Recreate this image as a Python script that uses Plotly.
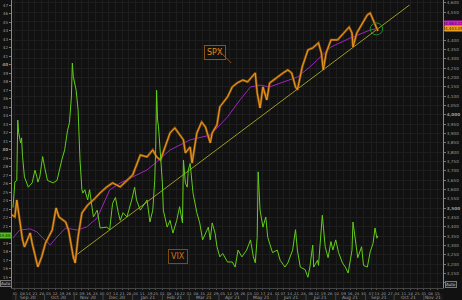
import plotly.graph_objects as go
import pandas as pd

# ---------------- data ----------------
spx_dates = ["2020-08-28","2020-08-31","2020-09-02","2020-09-04","2020-09-08","2020-09-10","2020-09-16",
             "2020-09-18","2020-09-24","2020-09-28","2020-10-02","2020-10-09","2020-10-13","2020-10-16",
             "2020-10-23","2020-10-26","2020-10-31","2020-11-02","2020-11-05","2020-11-09","2020-11-15",
             "2020-11-21","2020-11-28","2020-12-05","2020-12-11","2020-12-19","2020-12-26","2021-01-01",
             "2021-01-09","2021-01-16","2021-01-22","2021-01-26","2021-01-30","2021-02-09","2021-02-14",
             "2021-02-19","2021-02-23","2021-02-25","2021-03-02","2021-03-04","2021-03-09","2021-03-14",
             "2021-03-18","2021-03-23","2021-03-25","2021-03-30","2021-04-02","2021-04-10","2021-04-15",
             "2021-04-20","2021-04-26","2021-05-01","2021-05-09","2021-05-11","2021-05-14","2021-05-17",
             "2021-05-21","2021-05-24","2021-06-01","2021-06-07","2021-06-12","2021-06-16","2021-06-20",
             "2021-06-22","2021-06-27","2021-07-03","2021-07-08","2021-07-14","2021-07-17","2021-07-19",
             "2021-07-22","2021-07-27","2021-08-03","2021-08-10","2021-08-15","2021-08-18","2021-08-19",
             "2021-08-23","2021-08-29","2021-09-03","2021-09-06","2021-09-09","2021-09-13","2021-09-14"]
spx_vals = [3464,3453,3544,3464,3330,3292,3367,3313,3185,3239,3313,3383,3501,3453,3426,3383,3239,3206,
            3346,3474,3517,3544,3582,3614,3635,3614,3651,3678,3785,3775,3812,3775,3758,3903,3930,3892,
            3866,3796,3828,3742,3903,3962,3935,3850,3903,3946,4043,4096,4150,4171,4187,4177,4225,4118,
            4037,4150,4080,4171,4203,4225,4241,4225,4150,4134,4257,4348,4359,4386,4332,4241,4332,4402,
            4402,4439,4471,4439,4364,4439,4493,4536,4546,4509,4466,4450]

ma_dates = ["2020-08-29","2020-09-05","2020-09-16","2020-09-23","2020-09-29","2020-10-07","2020-10-13",
            "2020-10-23","2020-11-04","2020-11-14","2020-11-25","2020-12-01","2020-12-08","2020-12-19",
            "2021-01-01","2021-01-16","2021-01-26","2021-02-09","2021-03-02","2021-03-23","2021-04-10",
            "2021-04-23","2021-05-04","2021-05-14","2021-05-24","2021-06-07","2021-06-22","2021-07-05",
            "2021-07-27","2021-08-16","2021-09-06","2021-09-14"]
ma_vals = [3340,3383,3389,3373,3340,3303,3340,3394,3383,3399,3448,3517,3598,3635,3667,3705,3748,3812,
           3866,3892,3989,4080,4150,4160,4150,4177,4203,4257,4364,4412,4455,4463]

vix_dates = ["2020-08-29","2020-08-31","2020-09-02","2020-09-03","2020-09-04","2020-09-06","2020-09-07",
             "2020-09-08","2020-09-10","2020-09-14","2020-09-18","2020-09-21","2020-09-23","2020-09-24",
             "2020-09-26","2020-09-28","2020-09-29","2020-10-01","2020-10-04","2020-10-10","2020-10-14",
             "2020-10-19","2020-10-22","2020-10-25","2020-10-27","2020-10-29","2020-10-30","2020-10-31",
             "2020-11-01","2020-11-03","2020-11-05","2020-11-06","2020-11-07","2020-11-09","2020-11-10",
             "2020-11-12","2020-11-15","2020-11-17","2020-11-21","2020-11-25","2020-11-28","2020-12-05",
             "2020-12-08","2020-12-11","2020-12-14","2020-12-17","2020-12-19","2020-12-22","2020-12-26",
             "2020-12-31","2021-01-03","2021-01-05","2021-01-09","2021-01-16","2021-01-19","2021-01-22",
             "2021-01-24","2021-01-25","2021-01-26","2021-01-27","2021-01-28","2021-02-01","2021-02-02",
             "2021-02-06","2021-02-09","2021-02-12","2021-02-16","2021-02-19","2021-02-22","2021-02-23",
             "2021-02-25","2021-02-27","2021-02-28","2021-03-02","2021-03-04","2021-03-05","2021-03-09",
             "2021-03-12","2021-03-15","2021-03-18","2021-03-21","2021-03-23","2021-03-25","2021-03-28",
             "2021-03-30","2021-04-02","2021-04-05","2021-04-10","2021-04-15","2021-04-18","2021-04-21",
             "2021-04-25","2021-04-30","2021-05-04","2021-05-07","2021-05-09","2021-05-11","2021-05-12",
             "2021-05-14","2021-05-17","2021-05-20","2021-05-22","2021-05-27","2021-06-01","2021-06-04",
             "2021-06-09","2021-06-12","2021-06-17","2021-06-20","2021-06-22","2021-06-25","2021-06-30",
             "2021-07-03","2021-07-05","2021-07-08","2021-07-09","2021-07-13","2021-07-14","2021-07-18",
             "2021-07-21","2021-07-24","2021-07-27","2021-07-29","2021-08-01","2021-08-04","2021-08-08",
             "2021-08-11","2021-08-14","2021-08-18","2021-08-19","2021-08-21","2021-08-24","2021-08-28",
             "2021-08-30","2021-09-03","2021-09-06","2021-09-09","2021-09-11","2021-09-13","2021-09-14"]
vix_vals = [23.2,26.2,26.4,33.5,32.0,30.8,31.4,29.2,26.8,25.6,26.1,27.6,26.8,26.2,26.8,28.2,29.2,28.0,
            26.4,26.1,26.4,28.8,30.0,32.3,33.2,36.2,40.2,38.6,37.9,37.0,34.7,31.2,28.8,25.3,24.9,25.3,
            24.1,25.3,22.1,22.9,20.8,20.9,20.6,23.7,24.4,22.6,21.7,22.6,22.1,24.1,25.6,24.1,22.9,24.1,
            21.5,22.9,26.4,30.0,37.0,33.5,32.7,26.1,22.9,20.9,21.7,20.2,21.7,23.3,21.4,28.8,26.1,25.6,
            27.6,28.4,26.1,24.9,22.6,21.4,19.4,20.2,20.9,19.4,21.4,20.2,18.6,17.4,17.8,16.8,16.8,16.2,
            18.2,17.4,18.2,19.4,17.4,16.7,19.7,27.4,22.9,20.9,22.1,19.7,17.9,18.2,17.0,16.2,16.7,18.2,
            20.6,18.2,16.2,15.9,15.0,16.2,18.8,16.2,17.0,16.4,22.3,18.6,17.3,19.2,18.2,19.4,17.9,16.7,
            16.2,15.5,18.2,21.5,19.7,17.3,18.6,16.4,16.2,18.0,19.0,20.8,19.6,19.88]

trend_dates = ["2020-10-30", "2021-10-17"]
trend_vals = [3233, 4589]

circle_dates = ["2021-09-06", "2021-09-19"]
circle_vals = [4429, 4493]

spx_ticks = list(range(3100, 4601, 50))
vix_ticks = list(range(14, 48))
month_starts = ["2020-09-01","2020-10-01","2020-11-01","2020-12-01","2021-01-01","2021-02-01","2021-03-01",
                "2021-04-01","2021-05-01","2021-06-01","2021-07-01","2021-08-01","2021-09-01","2021-10-01",
                "2021-11-01"]
month_mids = ["2020-09-14","2020-10-16","2020-11-15","2020-12-16","2021-01-16","2021-02-14","2021-03-16",
              "2021-04-15","2021-05-16","2021-06-15","2021-07-16","2021-08-16","2021-09-15","2021-10-16",
              "2021-11-11"]
month_labels = ["Sep 20","Oct 20","Nov 20","Dec 20","Jan 21","Feb 21","Mar 21","Apr 21","May 21",
                "Jun 21","Jul 21","Aug 21","Sep 21","Oct 21","Nov 21"]
holiday_shift = {"2020-09-07": "2020-09-08", "2021-01-18": "2021-01-19", "2021-02-15": "2021-02-16",
                 "2021-05-31": "2021-06-01", "2021-07-05": "2021-07-06", "2021-09-06": "2021-09-07"}

last_spx_label = "4,443.05"
last_ma_label = "4,463.11"
last_vix_label = "19.88"

# ---------------- figure ----------------
BG = "#111111"
GRID = "#1d1d1d"
TXT = "#9c9c9c"
ORANGE = "#f5a023"
GREEN = "#63cc18"
MAGENTA = "#a321c4"

week_ticks = [d.strftime("%Y-%m-%d") for d in pd.date_range("2020-08-31", "2021-11-15", freq="W-MON")]
week_ticks = [holiday_shift.get(d, d) for d in week_ticks]
week_text = [d[-2:] for d in week_ticks]

fig = go.Figure()

fig.add_trace(go.Scatter(x=trend_dates, y=trend_vals, mode="lines", yaxis="y",
                         line=dict(color="#9c9a25", width=1), hoverinfo="skip"))
fig.add_trace(go.Scatter(x=ma_dates, y=ma_vals, mode="lines", yaxis="y",
                         line=dict(color=MAGENTA, width=1), hoverinfo="skip"))
fig.add_trace(go.Scatter(x=spx_dates, y=spx_vals, mode="lines", yaxis="y",
                         line=dict(color="#8f560f", width=2.4), hoverinfo="skip"))
fig.add_trace(go.Scatter(x=spx_dates, y=spx_vals, mode="lines", yaxis="y",
                         line=dict(color=ORANGE, width=0.9), hoverinfo="skip"))
fig.add_trace(go.Scatter(x=vix_dates, y=vix_vals, mode="lines", yaxis="y2",
                         line=dict(color=GREEN, width=1.0), hoverinfo="skip"))

shapes = []
shapes.append(dict(type="circle", xref="x", yref="y", x0=circle_dates[0], x1=circle_dates[1],
                   y0=circle_vals[0], y1=circle_vals[1], line=dict(color="#1d8f26", width=1)))
shapes.append(dict(type="rect", xref="paper", yref="paper", x0=0, x1=1, y0=-0.042, y1=-0.021,
                   fillcolor="#181818", line=dict(width=0), layer="below"))
for m in month_starts:
    shapes.append(dict(type="line", xref="x", yref="paper", x0=m, x1=m, y0=-0.042, y1=-0.021,
                       line=dict(color="#444444", width=1)))

annotations = []
for mid, lab in zip(month_mids, month_labels):
    annotations.append(dict(x=mid, y=-0.032, xref="x", yref="paper", text=lab, showarrow=False,
                            font=dict(size=4.5, color=TXT, family="DejaVu Sans"), yanchor="middle"))
annotations.append(dict(x="2021-03-28", y=0.843, xref="x", yref="paper", text="SPX",
                        showarrow=False, font=dict(size=8, color="#e08a18", family="DejaVu Sans"),
                        bordercolor="#8a5410", borderwidth=1, borderpad=2, bgcolor=BG))
annotations.append(dict(x="2021-04-14", y=4278, xref="x", yref="y", ax=-16, ay=-16, text="",
                        showarrow=True, arrowhead=0, arrowwidth=1, arrowcolor="#8a5410"))
annotations.append(dict(x="2021-02-17", y=17.5, xref="x", yref="y2", text="VIX",
                        showarrow=False, font=dict(size=8, color="#c87a15", family="DejaVu Sans"),
                        bordercolor="#7a4c10", borderwidth=1, borderpad=2, bgcolor=BG))
annotations.append(dict(x=1, y=ma_vals[-1], xref="paper", yref="y", xanchor="left", yshift=5, xshift=1,
                        text=last_ma_label, showarrow=False, bgcolor="#d21fd2", borderpad=0,
                        font=dict(size=4, color="#3a003a", family="DejaVu Sans")))
annotations.append(dict(x=1, y=spx_vals[-1], xref="paper", yref="y", xanchor="left", yshift=2, xshift=1,
                        text=last_spx_label, showarrow=False, bgcolor="#f0a01e", borderpad=0,
                        font=dict(size=4, color="#3a2000", family="DejaVu Sans")))
annotations.append(dict(x=0, y=vix_vals[-1], xref="paper", yref="y2", xanchor="right",
                        text=last_vix_label, showarrow=False, bgcolor="#4fc21a", borderpad=0,
                        font=dict(size=4, color="#0c2a00", family="DejaVu Sans")))
annotations.append(dict(x=0, y=0.002, xref="paper", yref="paper", xanchor="right", yanchor="bottom",
                        text="Auto", showarrow=False, bgcolor="#202020", bordercolor="#777", borderwidth=1,
                        borderpad=0, font=dict(size=4, color="#cccccc", family="DejaVu Sans")))
annotations.append(dict(x=1, y=0.0, xref="paper", yref="paper", xanchor="left", yanchor="bottom",
                        xshift=2, text="Auto", showarrow=False, bgcolor="#202020", bordercolor="#777",
                        borderwidth=1, borderpad=0, font=dict(size=4, color="#cccccc", family="DejaVu Sans")))

hidden_spx = {4450, 4500, 3100}
hidden_vix = {20, 14}
spx_text = ["" if v in hidden_spx else ("<b>{:,}</b>".format(v) if v % 500 == 0 else "{:,}".format(v))
            for v in spx_ticks]
vix_text = ["" if v in hidden_vix else ("<b>{}</b>".format(v) if v % 10 == 0 else str(v))
            for v in vix_ticks]

fig.update_layout(
    width=462, height=300,
    margin=dict(l=12, r=19, t=0, b=12),
    paper_bgcolor=BG, plot_bgcolor=BG,
    showlegend=False,
    font=dict(family="DejaVu Sans", size=5, color=TXT),
    xaxis=dict(type="date", range=["2020-08-28", "2021-11-21"], tickvals=week_ticks, ticktext=week_text,
               tickfont=dict(size=3.8, color=TXT), ticks="outside", ticklen=1, tickcolor="#555",
               showgrid=True, gridcolor=GRID, gridwidth=1, showline=True, linecolor="#444",
               zeroline=False, tickangle=0),
    yaxis=dict(side="right", range=[3072, 4616], tickvals=spx_ticks, ticktext=spx_text,
               tickfont=dict(size=4.2, color=TXT), ticks="outside", ticklen=2, tickcolor="#777",
               showgrid=True, gridcolor=GRID, showline=True, linecolor="#8a8a8a", zeroline=False),
    yaxis2=dict(side="left", overlaying="y", range=[13.74, 47.62], tickvals=vix_ticks, ticktext=vix_text,
                tickfont=dict(size=4.2, color=TXT), ticks="outside", ticklen=2, tickcolor="#777",
                showgrid=False, showline=True, linecolor="#8a8a8a", zeroline=False),
    shapes=shapes, annotations=annotations,
)

fig.write_html("out.html")
